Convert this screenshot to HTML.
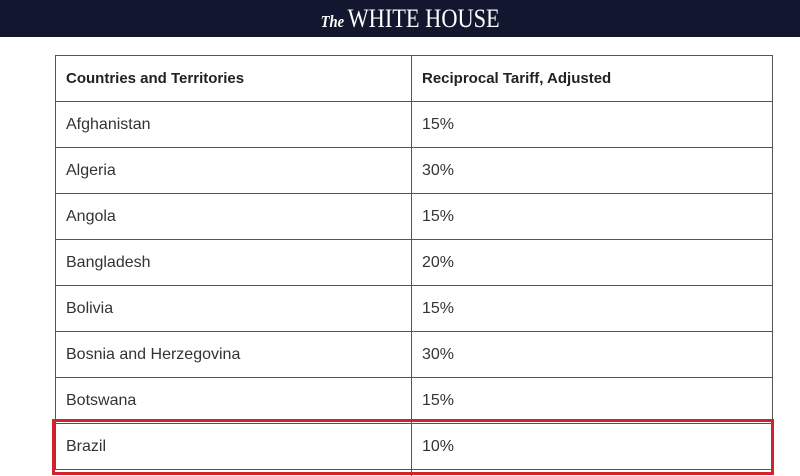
<!DOCTYPE html>
<html><head><style>
body{margin:0;width:800px;height:466px;overflow:hidden;background:#fff;font-family:"Liberation Sans",sans-serif;position:relative}
.top{position:absolute;left:0;top:0;width:800px;height:37px;background:#12162f;color:#fff;text-align:center;font-family:"Liberation Serif",serif;font-size:26px;line-height:38px}
.top span{display:inline-block;transform:scaleX(0.86);margin-left:20px}
.top i{font-size:17px;font-weight:bold;margin-right:4px}
.tbl{position:absolute;left:55px;top:55px;width:716px;border:1px solid #555;border-bottom:none}
.row{height:45px;border-bottom:1px solid #555;position:relative;font-size:16px;color:#333}
.row div{position:absolute;top:0;line-height:45px}
.c1{left:10px}.c2{left:366px}
.vl{position:absolute;left:355px;top:0;width:1px;height:420px;background:#555}
.h{font-weight:bold;font-size:15px;color:#222}
.red{position:absolute;left:52px;top:419px;width:716px;height:50px;border:3px solid #d0232d}
</style></head><body>
<div class="top"><span><i>The</i>WHITE HOUSE</span></div>
<div class="tbl">
<div class="vl"></div>
<div class="row h"><div class="c1">Countries and Territories</div><div class="c2">Reciprocal Tariff, Adjusted</div></div>
<div class="row"><div class="c1">Afghanistan</div><div class="c2">15%</div></div>
<div class="row"><div class="c1">Algeria</div><div class="c2">30%</div></div>
<div class="row"><div class="c1">Angola</div><div class="c2">15%</div></div>
<div class="row"><div class="c1">Bangladesh</div><div class="c2">20%</div></div>
<div class="row"><div class="c1">Bolivia</div><div class="c2">15%</div></div>
<div class="row"><div class="c1">Bosnia and Herzegovina</div><div class="c2">30%</div></div>
<div class="row"><div class="c1">Botswana</div><div class="c2">15%</div></div>
<div class="row"><div class="c1">Brazil</div><div class="c2">10%</div></div>
</div>
<div class="red"></div>
</body></html>
